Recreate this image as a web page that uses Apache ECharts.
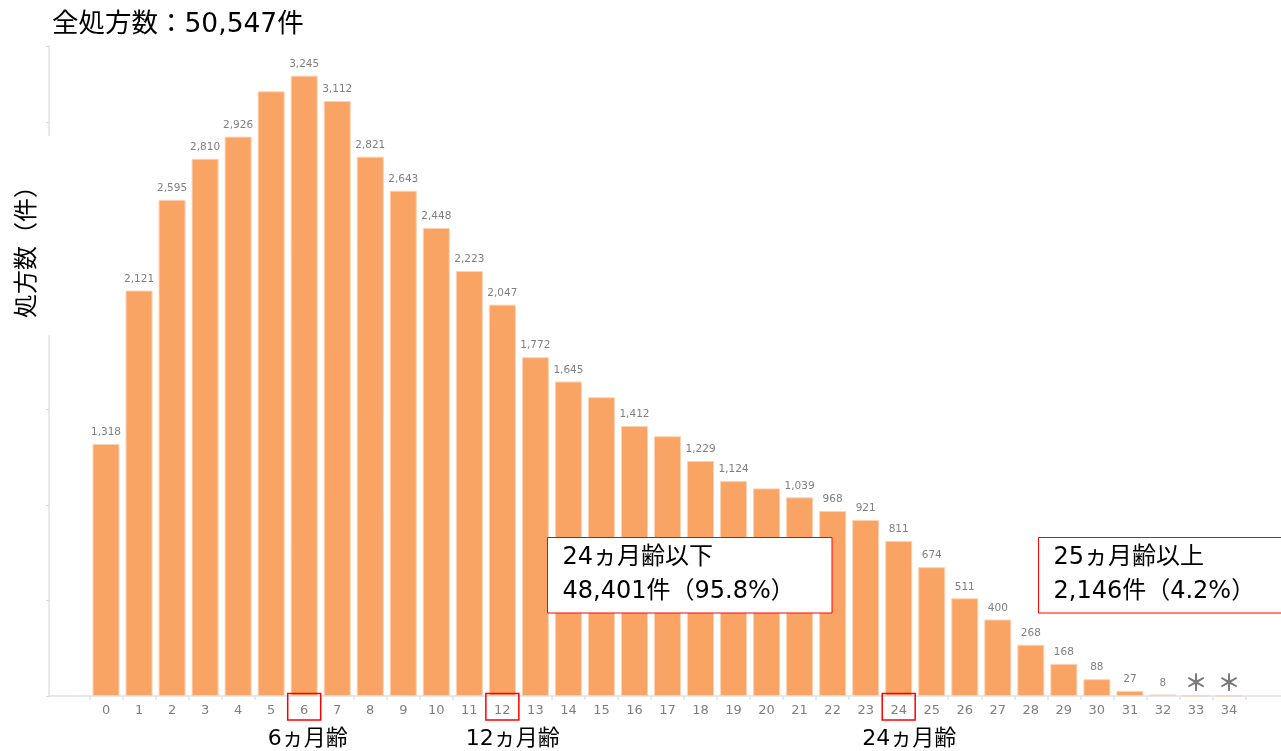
<!DOCTYPE html>
<html>
<head>
<meta charset="utf-8">
<script src="https://cdn.jsdelivr.net/npm/echarts@6/dist/echarts.min.js"></script>
<style>
  html, body { margin: 0; padding: 0; background: #ffffff; }
  #chart { width: 1281px; height: 751px; }
</style>
</head>
<body>
<div id="chart"></div>
<script>
// Age in months (categories) and prescription counts per month of age
const ages = ['0','1','2','3','4','5','6','7','8','9','10','11','12','13','14','15','16','17',
  '18','19','20','21','22','23','24','25','26','27','28','29','30','31','32','33','34'];
const counts = [1318, 2121, 2595, 2810, 2926, 3163, 3245, 3112, 2821, 2643, 2448, 2223, 2047,
  1772, 1645, 1563, 1412, 1359, 1229, 1124, 1086, 1039, 968, 921, 811, 674, 511, 400, 268,
  168, 88, 27, 8, 1, 1];
// Bars drawn without a value label, and bars whose small counts are masked with an asterisk
const unlabeledAges = ['5', '15', '17', '20'];
const maskedAges = ['33', '34'];
// Highlighted ages and the captions under them
const highlightedAges = ['6', '12', '24'];
const highlightNotes = ['6ヵ月齢', '12ヵ月齢', '24ヵ月齢'];
// Texts
const titleText = '全処方数：50,547件';
const yAxisName = '処方数（件）';
const groupNotes = [
  ['24ヵ月齢以下', '48,401件（95.8%）'],
  ['25ヵ月齢以上', '2,146件（4.2%）']
];
// Value axis range
const yMax = 3400;
const yInterval = 500;

const MIX_FONT = "'DejaVu Sans', 'Noto Sans CJK JP', sans-serif";
const AXIS_COLOR = '#e1e2ea';
const BAR_COLOR = '#f9a365';
const LABEL_GRAY = '#7f7f7f';

const barData = ages.map((a, i) => {
  const item = { value: counts[i] };
  if (unlabeledAges.includes(a)) {
    item.label = { show: false };
  } else if (maskedAges.includes(a)) {
    item.label = {
      formatter: '＊',
      fontFamily: "'Noto Sans CJK JP', sans-serif",
      fontSize: 23,
      fontWeight: 'bold',
      color: '#7a7a7a',
      distance: 2
    };
  }
  return item;
});

const chart = echarts.init(document.getElementById('chart'), null, { renderer: 'canvas' });

chart.setOption({
  animation: false,
  backgroundColor: '#ffffff',
  grid: { left: 89.5, right: 35.5, top: 46, bottom: 55, containLabel: false },
  xAxis: {
    type: 'category',
    data: ages,
    boundaryGap: true,
    axisLine: { show: true, lineStyle: { color: AXIS_COLOR, width: 1.5 } },
    axisTick: { show: true, length: 4, lineStyle: { color: AXIS_COLOR, width: 1.5 } },
    axisLabel: {
      margin: 8,
      fontFamily: "'DejaVu Sans', sans-serif",
      fontSize: 13,
      color: LABEL_GRAY,
      interval: 0
    }
  },
  yAxis: {
    type: 'value',
    min: 0,
    max: yMax,
    interval: yInterval,
    offset: 40.5,
    axisLine: { show: true, lineStyle: { color: AXIS_COLOR, width: 1.5 } },
    axisTick: { show: true, length: 3, lineStyle: { color: '#d6d7e0', width: 1 } },
    axisLabel: { show: false },
    splitLine: { show: false }
  },
  series: [{
    type: 'bar',
    data: barData,
    barWidth: 27,
    itemStyle: { color: BAR_COLOR, borderColor: '#fcd2b2', borderWidth: 1 },
    label: {
      show: true,
      position: 'top',
      distance: 6,
      fontFamily: "'DejaVu Sans', sans-serif",
      fontSize: 10.5,
      color: LABEL_GRAY,
      formatter: p => p.value.toLocaleString('en-US')
    }
  }]
});

// Overlay elements: title, axis name, extended axis line, highlight boxes and group notes
const grid = { left: 89.5, right: 1281 - 35.5, bottom: 696 };
const overlay = [];

overlay.push({
  type: 'text', x: 52, y: 25, z: 100,
  style: { text: titleText, font: "26.5px " + MIX_FONT, fill: '#000000', textVerticalAlign: 'middle' }
});

// Gap in the value axis line around its name
overlay.push({
  type: 'rect', z: 100,
  shape: { x: 36, y: 136, width: 26, height: 199 },
  style: { fill: '#ffffff' }
});
overlay.push({
  type: 'text', x: 25, y: 246, rotation: Math.PI / 2, z: 101,
  style: {
    text: yAxisName, font: "24px 'Noto Sans CJK JP', sans-serif", fill: '#000000',
    textAlign: 'center', textVerticalAlign: 'middle'
  }
});

// Category axis line continues past the first and last bands
overlay.push({
  type: 'line', z: 50,
  shape: { x1: 48.5, y1: grid.bottom, x2: grid.left, y2: grid.bottom },
  style: { stroke: AXIS_COLOR, lineWidth: 1.5 }
});
overlay.push({
  type: 'line', z: 50,
  shape: { x1: grid.right, y1: grid.bottom, x2: 1281, y2: grid.bottom },
  style: { stroke: AXIS_COLOR, lineWidth: 1.5 }
});

highlightedAges.forEach((a, i) => {
  const cx = chart.convertToPixel({ xAxisIndex: 0 }, a);
  overlay.push({
    type: 'rect', z: 100,
    shape: { x: cx - 16.5, y: 693.5, width: 33, height: 26.5 },
    style: { fill: 'none', stroke: '#ff0000', lineWidth: 1.5 }
  });
  overlay.push({
    type: 'text', x: cx - 36.5, y: 739, z: 100,
    style: { text: highlightNotes[i], font: "22px " + MIX_FONT, fill: '#000000', textVerticalAlign: 'middle' }
  });
});

const noteBoxes = [
  { x: 547.5, y: 537.5, w: 284.5, h: 75.5 },
  { x: 1038.5, y: 537.5, w: 250, h: 75.5 }
];
groupNotes.forEach((lines, i) => {
  const b = noteBoxes[i];
  overlay.push({
    type: 'rect', z: 100,
    shape: { x: b.x, y: b.y, width: b.w, height: b.h },
    style: { fill: '#ffffff', stroke: '#ff0000', lineWidth: 1 }
  });
  lines.forEach((t, j) => {
    overlay.push({
      type: 'text', x: b.x + 15, y: b.y + 20.5 + j * 34, z: 101,
      style: { text: t, font: "24px " + MIX_FONT, fill: '#000000', textVerticalAlign: 'middle' }
    });
  });
});

chart.setOption({ graphic: overlay });
</script>
</body>
</html>
